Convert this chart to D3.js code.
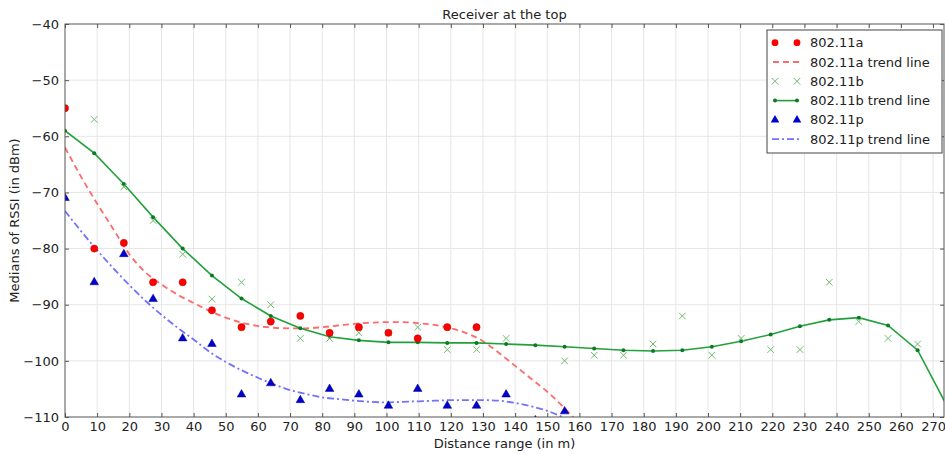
<!DOCTYPE html>
<html lang="en">
<head>
  <meta charset="UTF-8">
  <title>Receiver at the top</title>
  <script src="https://cdn.jsdelivr.net/npm/d3@7"></script>
  <style>
    body { margin: 0; background: #fff; font-family: 'DejaVu Sans', sans-serif; }
    .axis text { font-family: 'DejaVu Sans', sans-serif; font-size: 13px; fill: #222; }
    .axis path { display: none; }
    .axis line { stroke: #555; }
    .grid line { stroke: #e6e6e6; stroke-width: 1; }
  </style>
</head>
<body>
<svg id="chart" width="945" height="454"></svg>
<script>
// distances of the measurements (in m)
const distances = [0, 9.1, 18.3, 27.4, 36.6, 45.7, 54.9, 64.0, 73.2, 82.3, 91.4, 100.6, 109.7, 118.9, 128.0, 137.2,
  146.3, 155.4, 164.6, 173.7, 182.9, 192.0, 201.2, 210.3, 219.5, 228.6, 237.7, 246.9, 256.0, 265.2, 274.3];

// medians of RSSI, aligned with distances (null = no point)
const rssiA = [-55, -80, -79, -86, -86, -91, -94, -93, -92, -95, -94, -95, -96, -94, -94];
const rssiB = [null, -57, -69, -75, -81, -89, -86, -90, -96, -96, -95, -95, -94, -98, -98, -96, null, -100, -99, -99,
  -97, -92, -99, -96, -98, -98, -86, -93, -96, -97];
const trendB = [-59, -63, -68.5, -74.4, -80, -84.8, -88.9, -92, -94.2, -95.7, -96.35, -96.7, -96.7, -96.8, -96.8, -97,
  -97.2, -97.5, -97.8, -98.1, -98.25, -98.1, -97.5, -96.5, -95.3, -93.85, -92.7, -92.3, -93.7, -98.1, -108];
const rssiP = [-71, -86, -81, -89, -96, -97, -106, -104, -107, -105, -106, -108, -105, -108, -108, -106, -110.6, -109];

// smooth trend lines for 802.11a and 802.11p
const trendX = [0, 5, 10, 15, 20, 25, 30, 35, 40, 45, 50, 55, 60, 65, 70, 75, 80, 85, 90, 95, 100, 105, 110, 115, 120,
  125, 130, 135, 140, 145, 150, 155, 160];
const trendA = [-62, -67.2, -72, -76.5, -81, -84.2, -86.4, -88.2, -89.7, -91.1, -92.3, -93.2, -93.8, -94.1, -94.2,
  -94.2, -94.0, -93.7, -93.4, -93.2, -93.1, -93.1, -93.3, -93.6, -94.2, -95.1, -96.5, -98.6, -100.9, -103.2, -105.5,
  -108.2, -111.2];
const trendP = [-73.3, -76.9, -80.3, -83.5, -86.5, -89.3, -91.8, -94.1, -96.2, -98.4, -100.2, -101.7, -103.0, -104.2,
  -105.2, -105.9, -106.5, -106.8, -107.1, -107.3, -107.4, -107.3, -107.2, -107.1, -107.0, -107.0, -107.0, -107.1,
  -107.5, -108.1, -108.9, -110.1, -111.6];

const xTicks = d3.range(0, 271, 10);
const yTicks = [-40, -50, -60, -70, -80, -90, -100, -110];

const legendItems = ["802.11a", "802.11a trend line", "802.11b", "802.11b trend line", "802.11p", "802.11p trend line"];

const pL = 65, pR = 944, pT = 24, pB = 417;
const svg = d3.select("#chart");

const x = d3.scaleLinear().domain([0, 273.4]).range([pL, pR]);
const y = d3.scaleLinear().domain([-110, -40]).range([pB, pT]);

svg.append("defs").append("clipPath").attr("id", "clip")
  .append("rect").attr("x", pL).attr("y", pT).attr("width", pR - pL).attr("height", pB - pT);

// grid
svg.append("g").attr("class", "grid").selectAll("line").data(xTicks.slice(1)).join("line")
  .attr("x1", d => x(d)).attr("x2", d => x(d)).attr("y1", pT).attr("y2", pB);
svg.append("g").attr("class", "grid").selectAll("line").data(yTicks.slice(1, -1)).join("line")
  .attr("x1", pL).attr("x2", pR).attr("y1", d => y(d)).attr("y2", d => y(d));

// axes with inward ticks on all four sides
svg.append("g").attr("class", "axis").attr("transform", `translate(0,${pB})`)
  .call(d3.axisBottom(x).tickValues(xTicks).tickSize(-4).tickPadding(5));
svg.append("g").attr("class", "axis").attr("transform", `translate(${pL},0)`)
  .call(d3.axisLeft(y).tickValues(yTicks).tickSize(-4).tickPadding(6));
svg.append("g").attr("class", "axis").attr("transform", `translate(0,${pT})`)
  .call(d3.axisTop(x).tickValues(xTicks).tickSize(-4).tickFormat(""));
svg.append("g").attr("class", "axis").attr("transform", `translate(${pR},0)`)
  .call(d3.axisRight(y).tickValues(yTicks).tickSize(-4).tickFormat(""));

const plot = svg.append("g").attr("clip-path", "url(#clip)");

const pts = vals => vals.map((v, i) => ({ x: distances[i], y: v })).filter(d => d.y !== null);
const curvePts = vals => vals.map((v, i) => ({ x: trendX[i], y: v }));
const smooth = d3.line().x(d => x(d.x)).y(d => y(d.y)).curve(d3.curveMonotoneX);
const straight = d3.line().x(d => x(d.x)).y(d => y(d.y));

// trend lines
plot.append("path").datum(curvePts(trendA)).attr("d", smooth)
  .attr("fill", "none").attr("stroke", "#ff6b6b").attr("stroke-width", 1.8).attr("stroke-dasharray", "6,4");
plot.append("path").datum(curvePts(trendP)).attr("d", smooth)
  .attr("fill", "none").attr("stroke", "#7272ff").attr("stroke-width", 1.8).attr("stroke-dasharray", "7,3,2,3");
plot.append("path").datum(pts(trendB)).attr("d", straight)
  .attr("fill", "none").attr("stroke", "#22a03c").attr("stroke-width", 1.6);
plot.selectAll(".bdot").data(pts(trendB)).join("circle").attr("class", "bdot")
  .attr("cx", d => x(d.x)).attr("cy", d => y(d.y)).attr("r", 2).attr("fill", "#0b7a26");

// markers
const cross = d3.symbol().type(d3.symbolX).size(30);
const tri = d3.symbol().type(d3.symbolTriangle).size(32);

plot.selectAll(".bx").data(pts(rssiB)).join("path").attr("class", "bx")
  .attr("transform", d => `translate(${x(d.x)},${y(d.y)})`).attr("d", cross)
  .attr("fill", "none").attr("stroke", "#6dbb6d").attr("stroke-width", 1);
plot.selectAll(".ad").data(pts(rssiA)).join("circle").attr("class", "ad")
  .attr("cx", d => x(d.x)).attr("cy", d => y(d.y)).attr("r", 3.6)
  .attr("fill", "#ff0000").attr("stroke", "#b00").attr("stroke-width", 0.5);
plot.selectAll(".pt").data(pts(rssiP)).join("path").attr("class", "pt")
  .attr("transform", d => `translate(${x(d.x)},${y(d.y)})`).attr("d", tri)
  .attr("fill", "#0000d0").attr("stroke", "#00007a").attr("stroke-width", 0.5);

// frame
svg.append("rect").attr("x", pL).attr("y", pT).attr("width", pR - pL).attr("height", pB - pT)
  .attr("fill", "none").attr("stroke", "#555").attr("stroke-width", 1);

// labels
svg.append("text").attr("x", (pL + pR) / 2).attr("y", 19).attr("text-anchor", "middle")
  .attr("font-size", 13).attr("fill", "#222").text("Receiver at the top");
svg.append("text").attr("x", (pL + pR) / 2).attr("y", 448).attr("text-anchor", "middle")
  .attr("font-size", 13).attr("fill", "#222").text("Distance range (in m)");
svg.append("text").attr("transform", `translate(19,${(pT + pB) / 2}) rotate(-90)`).attr("text-anchor", "middle")
  .attr("font-size", 13).attr("fill", "#222").text("Medians of RSSI (in dBm)");

// legend
const lg = svg.append("g").attr("transform", "translate(767,30)");
lg.append("rect").attr("width", 175).attr("height", 123).attr("fill", "#fff").attr("stroke", "#444").attr("stroke-width", 1);
const row = i => 12.7 + i * 19.3;
const hx1 = 8, hx2 = 30;
lg.selectAll(".lt").data(legendItems).join("text").attr("class", "lt")
  .attr("x", 43).attr("y", (d, i) => row(i)).attr("dy", "0.35em").attr("font-size", 13).attr("fill", "#222").text(d => d);
lg.selectAll(".la").data([hx1, hx2]).join("circle").attr("class", "la")
  .attr("cx", d => d).attr("cy", row(0)).attr("r", 3.4).attr("fill", "#ff0000");
lg.append("line").attr("x1", hx1 - 3).attr("x2", hx2 + 3).attr("y1", row(1)).attr("y2", row(1))
  .attr("stroke", "#ff6b6b").attr("stroke-width", 1.8).attr("stroke-dasharray", "6,4").attr("stroke-dashoffset", -1);
lg.selectAll(".lb").data([hx1, hx2]).join("path").attr("class", "lb")
  .attr("transform", d => `translate(${d},${row(2)})`).attr("d", cross)
  .attr("fill", "none").attr("stroke", "#6dbb6d").attr("stroke-width", 1);
lg.append("line").attr("x1", hx1).attr("x2", hx2).attr("y1", row(3)).attr("y2", row(3))
  .attr("stroke", "#22a03c").attr("stroke-width", 1.6);
lg.selectAll(".lbd").data([hx1, hx2]).join("circle").attr("class", "lbd")
  .attr("cx", d => d).attr("cy", row(3)).attr("r", 2).attr("fill", "#0b7a26");
lg.selectAll(".lp").data([hx1, hx2]).join("path").attr("class", "lp")
  .attr("transform", d => `translate(${d},${row(4)})`).attr("d", tri).attr("fill", "#0000d0");
lg.append("line").attr("x1", hx1 - 3).attr("x2", hx2 + 3).attr("y1", row(5)).attr("y2", row(5))
  .attr("stroke", "#7272ff").attr("stroke-width", 1.8).attr("stroke-dasharray", "7,3,2,3");
</script>
</body>
</html>
